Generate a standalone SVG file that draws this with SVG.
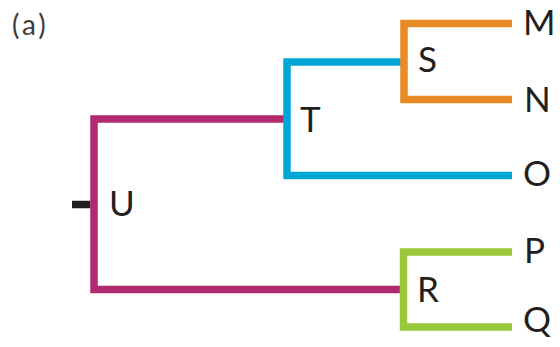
<svg xmlns="http://www.w3.org/2000/svg" width="560" height="347" viewBox="0 0 560 347">
<style>
.br{fill:none;stroke-width:7.5;stroke-linecap:butt;stroke-linejoin:miter}
.lbl{font-family:Lato,"Open Sans","Liberation Sans",sans-serif;font-size:35px;fill:#231f20}
</style>
<rect width="560" height="347" fill="#ffffff"/>
<text x="12" y="35" font-family="Lato,'Open Sans','Liberation Sans',sans-serif" font-size="28" letter-spacing="3" fill="#3c3c3c">(a)</text>
<g id="connectors">
<path class="br" stroke="#231f20" d="M72 204.5H90.5"/>
<path class="br" stroke="#b22a6e" d="M286 119H94V289.5H401"/>
<path class="br" stroke="#00a6d6" d="M401 62H287V175.5H512"/>
<path class="br" stroke="#e98b24" d="M512 23.5H404V99.5H512"/>
<path class="br" stroke="#9bc93b" d="M512 252H403.5V327H512"/>
</g>
<g id="node-U"><text class="lbl" x="109" y="216">U</text></g>
<g id="node-T"><text class="lbl" x="300" y="132">T</text></g>
<g id="node-S"><text class="lbl" x="418" y="72">S</text></g>
<g id="node-R"><text class="lbl" x="417" y="302">R</text></g>
<g id="node-M"><text class="lbl" x="523" y="35">M</text></g>
<g id="node-N"><text class="lbl" x="524" y="112">N</text></g>
<g id="node-O"><text class="lbl" x="523" y="186">O</text></g>
<g id="node-P"><text class="lbl" x="524" y="263">P</text></g>
<g id="node-Q"><text class="lbl" x="523" y="332">Q</text></g>
</svg>
